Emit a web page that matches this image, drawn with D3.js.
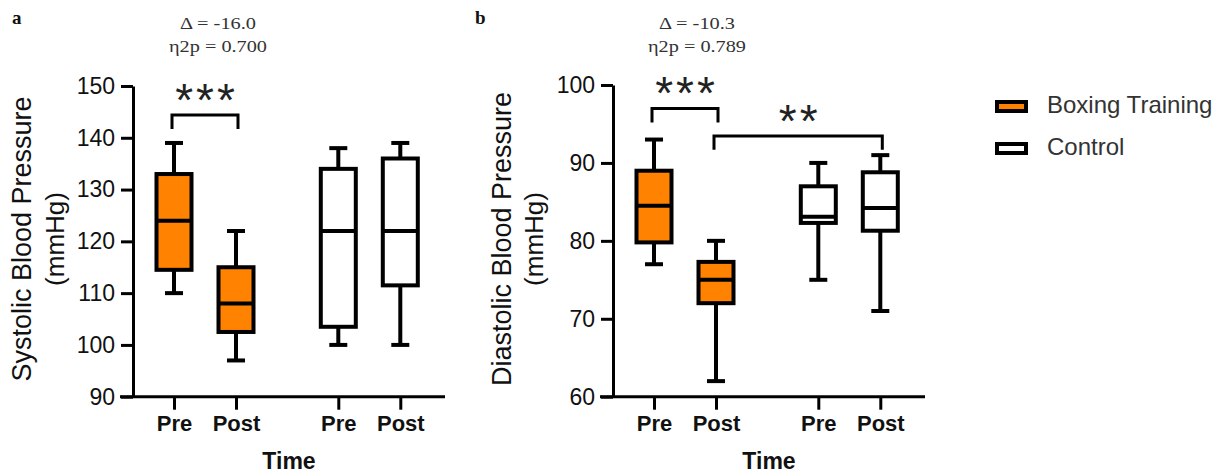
<!DOCTYPE html>
<html>
<head>
<meta charset="utf-8">
<script src="https://cdn.jsdelivr.net/npm/d3@7"></script>
<style>
  body { margin: 0; background: #fff; }
  svg { display: block; font-family: "Liberation Sans", Arial, sans-serif; }
</style>
</head>
<body>
<svg id="chart" width="1229" height="476"></svg>
<script>
// categories along the time axis
const timeLabels = ["Pre", "Post", "Pre", "Post"];
const groupOf = ["Boxing Training", "Boxing Training", "Control", "Control"];
const slots = [1, 2, 3.65, 4.65];

// systolic (panel a) five-number summaries
const sbpMin = [110, 97, 100, 100];
const sbpQ1  = [114.5, 102.5, 103.5, 111.5];
const sbpMed = [124, 108, 122, 122];
const sbpQ3  = [133, 115, 134, 136];
const sbpMax = [139, 122, 138, 139];

// diastolic (panel b)
const dbpMin = [77, 62, 75, 71];
const dbpQ1  = [79.8, 72, 82.3, 81.3];
const dbpMed = [84.5, 75, 83.1, 84.2];
const dbpQ3  = [89, 77.3, 87, 88.8];
const dbpMax = [93, 80, 90, 91];

const sbpTicks = [90, 100, 110, 120, 130, 140, 150];
const dbpTicks = [60, 70, 80, 90, 100];

// significance brackets: [from, to, y, drop-to, label]
const sbpSig = [[0, 1, 144.4, 141.7, "***"]];
const dbpSig = [[0, 1, 97.0, 95.2, "***"], [1, 3, 93.45, 91.7, "**"]];

const sbpStats = ["\u0394 = -16.0", "\u03b72p = 0.700"];
const dbpStats = ["\u0394 = -10.3", "\u03b72p = 0.789"];

const legendItems = ["Boxing Training", "Control"];
const colors = {"Boxing Training": "#ff8200", "Control": "#ffffff"};

const svg = d3.select("#chart");

function drawPanel(opt) {
  const g = svg.append("g").attr("transform", "translate(" + opt.left + "," + opt.top + ")");
  const h = opt.height, w = 312;

  const y = d3.scaleLinear().domain(opt.domain).range([h, 0]);
  const x = d3.scaleLinear().domain([1, 2]).range([41, 103]);

  // boxes
  const data = timeLabels.map(function(t, i) {
    return {i: i, min: opt.min[i], q1: opt.q1[i], med: opt.med[i], q3: opt.q3[i], max: opt.max[i], group: groupOf[i]};
  });
  const bw = 35, cw = 18;
  const box = g.selectAll(".box").data(data).enter().append("g").attr("class", "box");

  box.append("line")
    .attr("x1", d => x(slots[d.i])).attr("x2", d => x(slots[d.i]))
    .attr("y1", d => y(d.max)).attr("y2", d => y(d.min))
    .attr("stroke", "#000").attr("stroke-width", 4);
  box.append("line")
    .attr("x1", d => x(slots[d.i]) - cw / 2).attr("x2", d => x(slots[d.i]) + cw / 2)
    .attr("y1", d => y(d.max)).attr("y2", d => y(d.max))
    .attr("stroke", "#000").attr("stroke-width", 4);
  box.append("line")
    .attr("x1", d => x(slots[d.i]) - cw / 2).attr("x2", d => x(slots[d.i]) + cw / 2)
    .attr("y1", d => y(d.min)).attr("y2", d => y(d.min))
    .attr("stroke", "#000").attr("stroke-width", 4);
  box.append("rect")
    .attr("x", d => x(slots[d.i]) - bw / 2)
    .attr("width", bw)
    .attr("y", d => y(d.q3))
    .attr("height", d => y(d.q1) - y(d.q3))
    .attr("fill", d => colors[d.group])
    .attr("stroke", "#000").attr("stroke-width", 4);
  box.append("line")
    .attr("x1", d => x(slots[d.i]) - bw / 2).attr("x2", d => x(slots[d.i]) + bw / 2)
    .attr("y1", d => y(d.med)).attr("y2", d => y(d.med))
    .attr("stroke", "#000").attr("stroke-width", 4);

  // y axis
  const ya = g.append("g").call(d3.axisLeft(y).tickValues(opt.ticks).tickSize(12).tickSizeOuter(0).tickPadding(6));
  ya.select(".domain").attr("stroke-width", 3);
  ya.selectAll(".tick line").attr("stroke-width", 3);
  ya.selectAll("text").style("font-size", "23px").attr("fill", "#111");

  // x axis
  const xa = g.append("g").attr("transform", "translate(0," + h + ")")
    .call(d3.axisBottom(x).tickValues(slots).tickSize(13).tickSizeOuter(0)
      .tickFormat((d, i) => timeLabels[i]));
  xa.select(".domain").attr("d", "M-13,0H" + w).attr("stroke-width", 3);
  xa.selectAll(".tick line").attr("stroke-width", 3);
  xa.selectAll("text").attr("y", 0).attr("dy", "28px").attr("dominant-baseline", "middle")
    .style("font-size", "22px").style("font-weight", "bold").attr("fill", "#111");

  g.append("text").attr("x", 156).attr("y", h + 66)
    .attr("text-anchor", "middle").attr("dominant-baseline", "middle")
    .style("font-size", "23px").style("font-weight", "bold").attr("fill", "#111")
    .text("Time");

  // y title
  const ty = g.append("text").attr("transform", "translate(" + opt.titleX + "," + (opt.titleY - opt.top) + ") rotate(-90)")
    .attr("text-anchor", "middle").attr("fill", "#111");
  ty.append("tspan").attr("x", 0).attr("y", 0).attr("dominant-baseline", "central")
    .style("font-size", "27px").text(opt.title);
  ty.append("tspan").attr("x", 0).attr("y", opt.unitOffset).attr("dominant-baseline", "central")
    .style("font-size", "26px").text("(mmHg)");

  // significance brackets
  opt.sig.forEach(function(s) {
    const x1 = x(slots[s[0]]) - 2, x2 = x(slots[s[1]]) + 2;
    g.append("path")
      .attr("d", "M" + x1 + "," + y(s[3]) + "V" + y(s[2]) + "H" + x2 + "V" + y(s[3]))
      .attr("fill", "none").attr("stroke", "#000").attr("stroke-width", 3);
    g.append("text").attr("x", (x1 + x2) / 2 + 1.5).attr("y", y(s[2]) + 1)
      .attr("text-anchor", "middle")
      .style("font-size", "46px").style("letter-spacing", "3px").attr("fill", "#222")
      .text(s[4]);
  });

  // effect size notes
  opt.stats.forEach(function(t, i) {
    g.append("text").attr("x", opt.statX).attr("y", 25 + 23 * i - opt.top)
      .attr("text-anchor", "middle").attr("dominant-baseline", "middle")
      .style("font-family", "'Liberation Serif', 'Times New Roman', serif")
      .style("font-size", "17px").attr("fill", "#333")
      .attr("textLength", i == 0 ? 76 : 98).attr("lengthAdjust", "spacingAndGlyphs")
      .text(t);
  });

  svg.append("text").attr("x", opt.letterX).attr("y", 20)
    .attr("dominant-baseline", "middle")
    .style("font-family", "'Liberation Serif', 'Times New Roman', serif")
    .style("font-size", "19px").style("font-weight", "bold").attr("fill", "#111")
    .text(opt.letter);
}

drawPanel({left: 133, top: 86, height: 310.7, domain: [90, 150], ticks: sbpTicks,
  min: sbpMin, q1: sbpQ1, med: sbpMed, q3: sbpQ3, max: sbpMax, sig: sbpSig, stats: sbpStats,
  title: "Systolic Blood Pressure", titleX: 22 - 133, titleY: 239, unitOffset: 33,
  statX: 85, letter: "a", letterX: 12});

drawPanel({left: 613, top: 85, height: 311.7, domain: [60, 100], ticks: dbpTicks,
  min: dbpMin, q1: dbpQ1, med: dbpMed, q3: dbpQ3, max: dbpMax, sig: dbpSig, stats: dbpStats,
  title: "Diastolic Blood Pressure", titleX: 502 - 613, titleY: 239, unitOffset: 32,
  statX: 84, letter: "b", letterX: 475});

// legend
const lg = svg.append("g").attr("transform", "translate(997,102)");
legendItems.forEach(function(name, i) {
  lg.append("rect").attr("x", 0).attr("y", i * 42).attr("width", 29).attr("height", 9)
    .attr("fill", colors[name]).attr("stroke", "#000").attr("stroke-width", 4);
  lg.append("text").attr("x", 50).attr("y", i * 42 + 4.5)
    .attr("dominant-baseline", "middle")
    .style("font-size", "24px").attr("fill", "#333")
    .text(name);
});
</script>
</body>
</html>
